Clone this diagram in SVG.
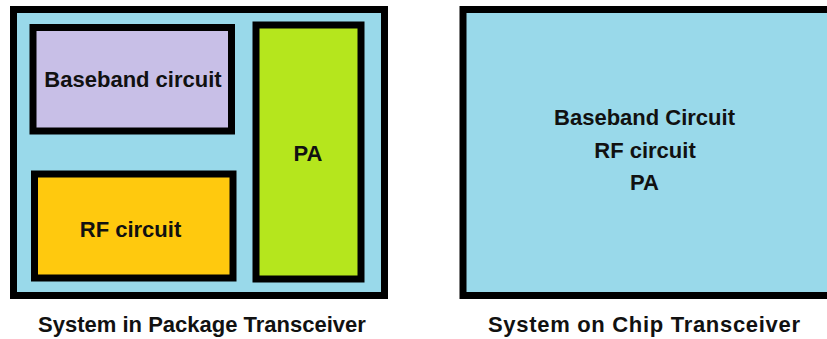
<svg xmlns="http://www.w3.org/2000/svg" width="827" height="339" viewBox="0 0 827 339">
<style>
.box{stroke:#000;stroke-width:7}
.t{font-family:"Liberation Sans",Arial,sans-serif;font-weight:bold;font-size:22px;fill:#111;text-anchor:middle}
</style>
<rect width="827" height="339" fill="#fff"/>
<g id="sip">
<rect class="box" x="13.5" y="9.5" width="371" height="286" fill="#99D9EA"/>
</g>
<g id="baseband">
<rect class="box" x="33" y="27.5" width="198.5" height="103.5" fill="#C8BFE7" stroke-width="6.5"/>
<text class="t" x="133" y="87">Baseband circuit</text>
</g>
<g id="rf">
<rect class="box" x="34.5" y="174" width="198.5" height="104" fill="#FFC90E" stroke-width="6.5"/>
<text class="t" x="130.5" y="236.5">RF circuit</text>
</g>
<g id="pa">
<rect class="box" x="256" y="25" width="105" height="254" fill="#B5E61D" stroke-width="6.5"/>
<text class="t" x="308" y="160.5">PA</text>
</g>
<g id="soc">
<rect class="box" x="463" y="9.5" width="400" height="286" fill="#99D9EA"/>
<text class="t" x="644.5" y="125">Baseband Circuit</text>
<text class="t" x="645" y="158">RF circuit</text>
<text class="t" x="644.5" y="189.5">PA</text>
</g>
<g id="connectors"></g>
<text class="t" x="202" y="331.5">System in Package Transceiver</text>
<text class="t" x="644" y="331.5" textLength="312" lengthAdjust="spacing">System on Chip Transceiver</text>
</svg>
